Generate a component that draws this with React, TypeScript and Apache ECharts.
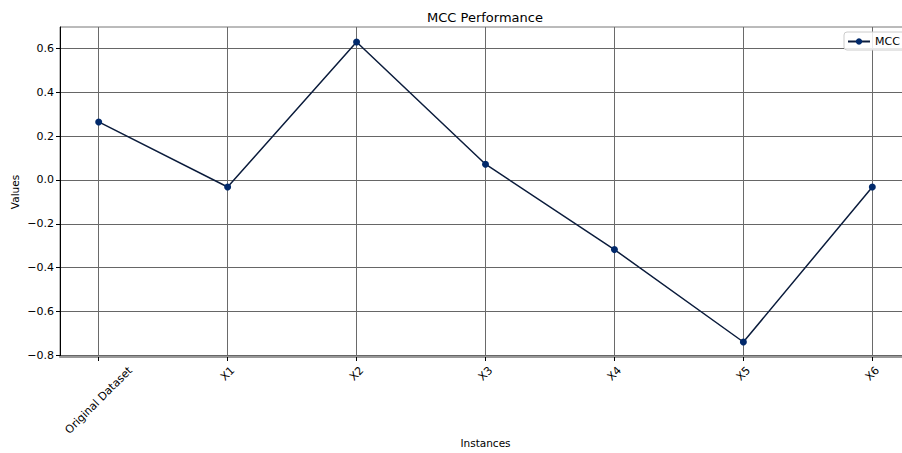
import React, { useEffect, useRef } from "react";
import * as echarts from "echarts";

const categories = ["Original Dataset", "X1", "X2", "X3", "X4", "X5", "X6"];
const mccValues = [0.265, -0.032, 0.63, 0.072, -0.318, -0.74, -0.032];
const yTicks = [-0.8, -0.6, -0.4, -0.2, 0, 0.2, 0.4, 0.6];
const xTicks = [0, 1, 2, 3, 4, 5, 6];

const FONT = "DejaVu Sans";
const TICK_FONT = 11;

function measure(text: string, size: number): number {
  const c = document.createElement("canvas").getContext("2d");
  if (!c) return text.length * size * 0.6;
  c.font = `${size}px "${FONT}"`;
  return c.measureText(text).width;
}

export default function App() {
  const ref = useRef<HTMLDivElement>(null);
  useEffect(() => {
    if (!ref.current) return;
    const chart = echarts.init(ref.current, undefined, { renderer: "svg" });
    // rich styles centring each rotated label on its tick (matplotlib rotation=45, ha=center)
    const rich: Record<string, any> = {};
    categories.forEach((c, i) => {
      const w = measure(c, TICK_FONT);
      const h = 13;
      const p = (w + h) / 2;
      rich["c" + i] = {
        fontSize: TICK_FONT,
        fontFamily: FONT,
        color: "#000",
        padding: [p, p, 0, 0],
      };
    });
    chart.setOption({
      animation: false,
      backgroundColor: "#fff",
      textStyle: { fontFamily: FONT },
      title: {
        text: "MCC Performance",
        left: 480,
        textAlign: "center",
        top: 6,
        textStyle: { fontSize: 13, fontWeight: "normal", color: "#000", fontFamily: FONT },
      },
      legend: {
        left: 844,
        top: 32,
        data: ["MCC"],
        itemWidth: 22,
        itemHeight: 8,
        itemGap: 5,
        padding: [4, 6, 3, 3],
        borderColor: "#ccc",
        borderWidth: 1,
        borderRadius: 3,
        backgroundColor: "rgba(255,255,255,0.85)",
        textStyle: { fontSize: 11, color: "#000", fontFamily: FONT },
      },
      grid: {
        left: 60,
        top: 27,
        right: -9,
        bottom: 96,
        show: true,
        borderColor: "#777",
        borderWidth: 1,
        outerBoundsMode: "none",
        containLabel: false,
      },
      xAxis: {
        type: "value",
        min: -0.3,
        max: 6.3,
        name: "Instances",
        nameLocation: "middle",
        nameGap: 80,
        nameMoveOverlap: false,
        nameTextStyle: { fontSize: 10.5, color: "#000", fontFamily: FONT },
        axisLine: { show: true, onZero: false, lineStyle: { color: "#999", width: 2 } },
        axisTick: { show: true, length: 4, customValues: xTicks, lineStyle: { color: "#000" } },
        axisLabel: {
          customValues: xTicks,
          rotate: 45,
          align: "center",
          verticalAlign: "middle",
          fontSize: TICK_FONT,
          color: "#000",
          margin: 7,
          fontFamily: FONT,
          rich,
          formatter: (v: number) => {
            const i = Math.round(v);
            return categories[i] !== undefined ? `{c${i}|${categories[i]}}` : "";
          },
        },
        splitLine: { show: true, lineStyle: { color: "#6a6a6a", width: 1 } },
      },
      yAxis: {
        type: "value",
        min: -0.8085,
        max: 0.6985,
        name: "Values",
        nameLocation: "middle",
        nameGap: 40,
        nameMoveOverlap: false,
        nameTextStyle: { fontSize: 10.5, color: "#000", fontFamily: FONT },
        axisLine: { show: true, onZero: false, lineStyle: { color: "#000", width: 1 } },
        axisTick: { show: true, length: 4, customValues: yTicks, lineStyle: { color: "#000" } },
        axisLabel: {
          customValues: yTicks,
          fontSize: TICK_FONT,
          color: "#000",
          margin: 6,
          fontFamily: FONT,
          formatter: (v: number) => (v < -1e-9 ? "\u2212" : "") + Math.abs(v).toFixed(1),
        },
        splitLine: { show: true, lineStyle: { color: "#666", width: 1 } },
      },
      series: [
        {
          name: "MCC",
          type: "line",
          data: mccValues.map((v, i) => [i, v]),
          symbol: "circle",
          symbolSize: 7,
          lineStyle: { color: "#0b1c3c", width: 1.5 },
          itemStyle: { color: "#01296b" },
          z: 5,
        },
      ],
    });
    return () => chart.dispose();
  }, []);
  return (
    <div
      ref={ref}
      style={{ position: "absolute", left: 0, top: 0, width: 902, height: 453 }}
    />
  );
}
